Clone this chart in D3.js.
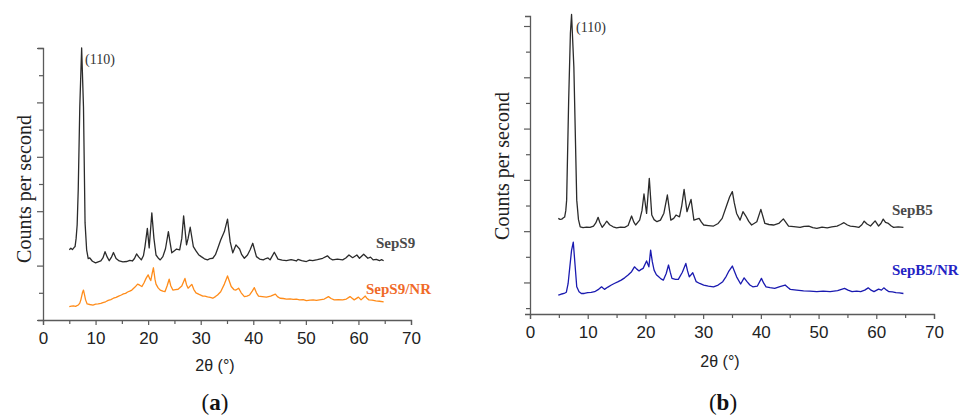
<!DOCTYPE html>
<html>
<head>
<meta charset="utf-8">
<script src="https://cdn.jsdelivr.net/npm/d3@7"></script>
<style>
  html, body { margin: 0; padding: 0; background: #fff; }
  svg { display: block; }
</style>
</head>
<body>
<svg id="chart" width="966" height="416"></svg>
<script>
// ---------------- DATA ----------------
const xTicks = [0, 10, 20, 30, 40, 50, 60, 70];
const xMinorTicks = [5, 15, 25, 35, 45, 55, 65];
const xTitle = "2θ (°)";
const yTitle = "Counts per second";
const panelLabels = ["(a)", "(b)"];
const peakLabel = "(110)";
const seriesNames = ["SepS9", "SepS9/NR", "SepB5", "SepB5/NR"];

// Panel (a) — 2θ (°), counts (arbitrary)
const sepS9 = [
  [5.0,258],[5.3,264],[5.6,259],[5.9,266],[6.1,270],[6.3,300],[6.5,350],[6.7,478],[7.0,785],[7.35,1000],
  [7.7,784],[8.0,357],[8.3,258],[8.6,226],[8.9,228],[9.4,216],[10.0,210],[10.5,214],[11.0,217],[11.4,228],
  [11.8,251],[12.2,232],[12.6,218],[13.0,230],[13.4,248],[13.9,226],[14.5,217],[15.2,214],[15.9,215],[16.5,219],
  [17.0,217],[17.4,226],[17.8,243],[18.2,232],[18.7,221],[19.1,236],[19.4,270],[19.85,337],[20.2,265],[20.7,394],
  [21.1,300],[21.5,239],[22.0,226],[22.3,221],[22.8,233],[23.3,262],[23.85,325],[24.2,282],[24.5,247],[25.0,255],
  [25.4,261],[26.0,258],[26.4,300],[26.75,383],[27.3,276],[27.6,300],[28.0,341],[28.6,270],[29.1,254],[29.6,240],
  [30.1,233],[30.7,225],[31.3,221],[31.8,226],[32.3,227],[32.8,240],[33.2,261],[33.8,294],[34.5,325],[35.1,371],
  [35.6,288],[36.1,247],[36.7,276],[37.4,261],[37.8,240],[38.3,227],[38.9,239],[39.4,258],[39.9,282],[40.6,233],
  [41.2,224],[41.9,221],[42.4,226],[42.8,228],[43.2,221],[44.0,249],[44.7,224],[45.5,220],[46.3,218],[47.2,222],
  [48.2,217],[48.5,223],[49.2,218],[50.1,215],[50.7,220],[51.3,218],[52.2,222],[53.2,227],[54.1,236],[54.6,226],
  [55.1,221],[56.0,224],[57.0,221],[57.6,228],[58.2,239],[58.9,229],[59.7,239],[60.2,227],[61.0,242],[61.8,227],
  [62.3,231],[62.8,221],[63.4,223],[64.0,218],[64.4,222],[64.8,218]
];
const sepS9NR = [
  [5.0,49],[5.4,51],[5.8,52],[6.2,50],[6.7,55],[7.0,62],[7.2,74],[7.5,100],[7.7,110],[7.9,92],[8.1,74],[8.4,59],
  [8.9,57],[9.5,55],[10.0,58],[10.5,59],[11.0,61],[11.4,64],[11.9,67],[12.4,72],[12.9,75],[13.4,80],[13.9,83],
  [14.4,88],[14.9,92],[15.3,96],[15.7,98],[16.1,103],[16.5,106],[16.9,110],[17.5,121],[18.0,132],[18.4,128],
  [18.8,123],[19.2,136],[19.6,153],[20.0,166],[20.3,152],[20.5,145],[20.75,170],[21.0,192],[21.3,150],[21.5,132],
  [21.9,118],[22.3,110],[22.8,106],[23.2,104],[23.6,125],[24.0,150],[24.3,126],[24.7,110],[25.2,112],[25.7,113],
  [26.4,125],[27.0,153],[27.3,130],[27.6,117],[28.3,131],[28.7,112],[29.1,100],[29.7,94],[30.4,88],[30.8,88],
  [31.3,85],[31.8,83],[32.3,80],[32.8,86],[33.2,92],[33.8,104],[34.5,132],[35.1,162],[35.5,140],[35.8,123],
  [36.3,112],[36.7,110],[37.2,117],[37.7,100],[38.3,86],[38.8,88],[39.3,92],[39.8,106],[40.2,119],[40.6,100],
  [41.0,88],[41.7,86],[42.5,84],[43.3,88],[44.2,95],[44.6,86],[45.1,80],[45.7,79],[46.3,77],[47.0,78],[47.6,76],
  [48.2,77],[48.8,74],[49.5,75],[50.1,71],[50.8,73],[51.4,74],[52.0,72],[52.6,74],[53.5,77],[54.3,86],[54.8,79],
  [55.4,74],[56.2,75],[57.0,74],[57.7,77],[58.4,86],[58.8,80],[59.2,74],[60.0,84],[60.5,74],[61.3,88],[61.6,80],
  [62.0,74],[62.6,73],[63.3,70],[64.0,69],[64.8,67]
];

// Panel (b)
const sepB5 = [
  [4.9,350],[5.2,346],[5.5,347],[5.8,352],[6.0,355],[6.2,380],[6.35,421],[6.7,811],[7.0,1072],[7.2,1145],
  [7.6,940],[8.1,421],[8.4,345],[8.7,317],[9.2,314],[9.8,316],[10.4,315],[11.0,320],[11.4,332],[11.8,354],
  [12.1,334],[12.5,315],[12.9,326],[13.3,339],[13.8,325],[14.4,317],[15.0,313],[15.7,316],[16.4,315],[17.0,322],
  [17.6,359],[18.0,335],[18.3,324],[19.0,343],[19.4,380],[19.75,445],[20.2,369],[20.67,506],[21.1,363],[21.5,345],
  [22.0,337],[22.6,343],[23.2,370],[23.8,441],[24.4,343],[24.9,350],[25.3,363],[25.9,356],[26.3,400],[26.7,463],
  [27.2,376],[27.9,424],[28.4,343],[29.3,350],[29.7,335],[30.1,324],[30.9,322],[31.8,320],[32.6,330],[33.3,350],
  [34.1,402],[34.6,434],[35.06,454],[35.4,410],[35.8,369],[36.4,343],[36.9,376],[37.4,359],[37.9,338],[38.4,324],
  [39.3,337],[40.0,385],[40.7,330],[41.4,326],[42.2,324],[43.1,330],[43.9,348],[44.8,320],[45.7,318],[46.8,315],
  [47.5,319],[48.3,320],[49.0,314],[49.7,311],[50.6,316],[51.5,313],[52.3,317],[53.2,320],[53.8,326],[54.4,333],
  [55.0,324],[55.5,320],[56.3,318],[57.0,315],[57.5,325],[57.9,339],[58.4,328],[59.0,320],[59.8,340],[60.4,320],
  [60.8,330],[61.2,347],[61.6,334],[62.1,330],[62.6,320],[63.0,315],[63.8,317],[64.7,315]
];
const sepB5NR = [
  [4.9,51],[5.2,53],[5.5,55],[5.9,57],[6.3,62],[6.6,95],[6.9,161],[7.2,225],[7.5,257],[7.8,170],[8.1,83],
  [8.5,64],[8.9,57],[9.4,57],[10.0,60],[10.6,61],[11.2,64],[11.8,72],[12.4,83],[12.9,73],[13.5,82],[14.1,90],
  [14.6,96],[15.2,102],[15.8,109],[16.4,118],[17.0,129],[17.6,142],[18.1,161],[18.5,152],[18.9,145],[19.2,150],
  [19.6,155],[20.2,184],[20.6,161],[20.9,226],[21.2,180],[21.5,148],[21.9,130],[22.3,122],[22.7,114],[23.1,109],
  [23.6,135],[24.0,168],[24.3,140],[24.6,116],[25.2,112],[25.7,112],[26.4,140],[27.0,174],[27.3,145],[27.6,122],
  [28.2,138],[28.8,103],[29.4,96],[30.1,90],[30.9,86],[31.8,83],[32.6,90],[33.4,103],[34.0,124],[34.4,142],
  [35.06,164],[35.4,145],[35.8,122],[36.5,94],[37.1,118],[37.6,103],[38.1,90],[38.6,83],[39.4,86],[40.1,116],
  [40.5,97],[40.9,83],[41.6,80],[42.4,77],[43.3,84],[44.2,90],[44.7,80],[45.1,73],[46.2,70],[47.4,67],[48.5,66],
  [49.7,64],[50.8,66],[52.0,64],[53.3,68],[54.5,77],[55.1,70],[55.8,64],[56.6,66],[57.3,64],[58.0,70],[58.6,79],
  [59.1,70],[59.6,64],[60.4,74],[60.9,70],[61.3,79],[61.8,70],[62.2,64],[62.8,63],[63.4,60],[64.0,59],[64.7,57]
];

// ---------------- DRAW ----------------
const svg = d3.select("#chart");
const serif = "'Liberation Serif', 'Times New Roman', Times, serif";
const sans = "'Liberation Sans', Arial, Helvetica, sans-serif";

const panels = [
  {
    x0: 43, x1: 411, yTop: 48, yBot: 320,
    yDomain: [0, 1000], yTicks: d3.range(0, 1001, 100), majorMod: 0,
    series: [
      {data: sepS9, color: "#2b2b2b", name: seriesNames[0], lx: 376, ly: 248, lcolor: "#4a4a4a"},
      {data: sepS9NR, color: "#ff8c1a", name: seriesNames[1], lx: 366, ly: 294, lcolor: "#f06a28"}
    ],
    peak: {x: 85, y: 64},
    yTitleX: 31, yTitleY: 189,
    xLabY: 338, xTitleY: 371,
    panelLabel: panelLabels[0], plX: 215, plY: 410
  },
  {
    x0: 530, x1: 934, yTop: 16, yBot: 314,
    yDomain: [-23, 1139], yTicks: d3.range(0, 1101, 100), majorMod: 100,
    series: [
      {data: sepB5, color: "#2b2b2b", name: seriesNames[2], lx: 892, ly: 215, lcolor: "#4a4a4a"},
      {data: sepB5NR, color: "#1a1ab0", name: seriesNames[3], lx: 892, ly: 275, lcolor: "#2323c4"}
    ],
    peak: {x: 576, y: 32},
    yTitleX: 509, yTitleY: 166,
    xLabY: 332, xTitleY: 367,
    panelLabel: panelLabels[1], plX: 723, plY: 410
  }
];

const axisColor = "#5a5a5a";

panels.forEach(p => {
  const x = d3.scaleLinear().domain([0, 70]).range([p.x0, p.x1]);
  const y = d3.scaleLinear().domain(p.yDomain).range([p.yBot, p.yTop]);
  const g = svg.append("g");

  // curves
  const line = d3.line().x(d => x(d[0])).y(d => y(d[1])).curve(d3.curveLinear);
  p.series.forEach(s => {
    g.append("path").datum(s.data)
      .attr("d", line)
      .attr("fill", "none")
      .attr("stroke", s.color)
      .attr("stroke-width", 1.3)
      .attr("stroke-linejoin", "round");
    g.append("text")
      .attr("x", s.lx).attr("y", s.ly)
      .attr("font-family", serif)
      .attr("font-weight", "bold")
      .attr("font-size", 15)
      .attr("fill", s.lcolor)
      .text(s.name);
  });

  // x axis
  const xAxis = d3.axisBottom(x).tickValues(xTicks).tickSize(5).tickFormat(d3.format("d"));
  const gx = g.append("g").attr("transform", `translate(0,${p.yBot})`).call(xAxis);
  gx.select(".domain").attr("stroke", axisColor).attr("stroke-width", 1.3);
  gx.selectAll(".tick line").attr("stroke", axisColor).attr("stroke-width", 1.2);
  gx.selectAll(".tick text")
    .attr("font-family", sans)
    .attr("font-size", 17).attr("fill", "#222")
    .attr("y", p.xLabY - p.yBot).attr("dy", "0.35em");
  const gxm = g.append("g").attr("transform", `translate(0,${p.yBot})`)
    .call(d3.axisBottom(x).tickValues(xMinorTicks).tickSize(4).tickFormat(""));
  gxm.select(".domain").remove();
  gxm.selectAll(".tick line").attr("stroke", axisColor).attr("stroke-width", 1.2);

  // y axis
  const gy = g.append("g").attr("transform", `translate(${p.x0},0)`)
    .call(d3.axisLeft(y).tickValues(p.yTicks).tickSize(5).tickFormat(""));
  gy.select(".domain").attr("stroke", axisColor).attr("stroke-width", 1.3);
  gy.selectAll(".tick line").attr("stroke", axisColor).attr("stroke-width", 1.2)
    .attr("x2", d => ((d - p.majorMod) % 200 === 0) ? -6 : -4);

  // axis titles
  g.append("text")
    .attr("x", (p.x0 + p.x1) / 2 - 12).attr("y", p.xTitleY)
    .attr("text-anchor", "middle")
    .attr("font-family", sans)
    .attr("font-size", 16).attr("fill", "#222")
    .text(xTitle);
  g.append("text")
    .attr("transform", `translate(${p.yTitleX},${p.yTitleY}) rotate(-90)`)
    .attr("text-anchor", "middle")
    .attr("font-family", serif)
    .attr("font-size", 20).attr("fill", "#222")
    .text(yTitle);

  // peak label
  g.append("text")
    .attr("x", p.peak.x).attr("y", p.peak.y)
    .attr("font-family", serif)
    .attr("font-size", 14).attr("fill", "#333")
    .text(peakLabel);

  // panel label
  g.append("text")
    .attr("x", p.plX).attr("y", p.plY)
    .attr("text-anchor", "middle")
    .attr("font-family", serif)
    .attr("font-size", 23).attr("fill", "#111")
    .html('(<tspan font-weight="bold">' + p.panelLabel.slice(1, -1) + '</tspan>)');
});
</script>
</body>
</html>
